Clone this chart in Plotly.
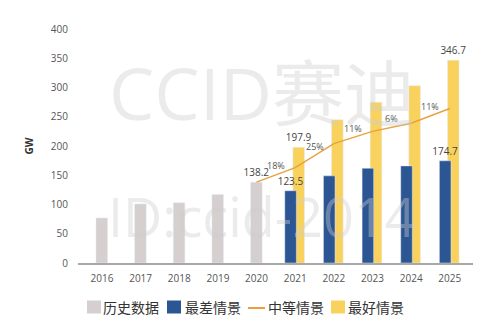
import plotly.graph_objects as go

years = ["2016", "2017", "2018", "2019", "2020", "2021", "2022", "2023", "2024", "2025"]
hist_years = years[:5]
hist_values = [77, 101, 103, 117, 138.2]
fc_years = years[5:]
worst_values = [123.5, 149, 162, 166, 174.7]
best_values = [197.9, 245, 275, 303, 346.7]
mid_years = years[4:]
mid_values = [138.2, 163, 204, 225, 239, 264]
growth_labels = ["18%", "25%", "11%", "6%", "11%"]
series_names = ["历史数据", "最差情景", "中等情景", "最好情景"]

hist_labeled = [4]
worst_labeled = [0, 4]
best_labeled = [0, 4]

GRAY = "#D5CFCF"
BLUE = "#2B5593"
YELLOW = "#F9D25E"
ORANGE = "#E9A140"
FONT = "Open Sans, Noto Sans CJK SC, sans-serif"
CJK = "Noto Sans CJK SC, sans-serif"

W, H = 499, 332
ML, MR, MT, MB = 78, 26, 29, 69
PW, PH = W - ML - MR, H - MT - MB


def px_x(px):
    return (px - ML) / PW


def px_y(py):
    return (H - MB - py) / PH


def labels(vals, idx):
    return [f"{v}" if i in idx else "" for i, v in enumerate(vals)]


fig = go.Figure()
fig.add_trace(go.Bar(
    x=hist_years, y=hist_values, name=series_names[0], marker_color=GRAY,
    width=0.3, offset=-0.155, text=labels(hist_values, hist_labeled),
    textposition="outside", constraintext="none", cliponaxis=False,
    textfont=dict(size=10, color="#444", family=FONT)))
fig.add_trace(go.Bar(
    x=fc_years, y=best_values, name=series_names[3], marker_color=YELLOW,
    width=0.3, offset=-0.06, text=labels(best_values, best_labeled),
    textposition="outside", constraintext="none", cliponaxis=False,
    textfont=dict(size=10, color="#444", family=FONT)))
fig.add_trace(go.Bar(
    x=fc_years, y=worst_values, name=series_names[1], marker_color=BLUE,
    width=0.3, offset=-0.27, text=labels(worst_values, worst_labeled),
    textposition="outside", constraintext="none", cliponaxis=False,
    textfont=dict(size=10, color="#444", family=FONT)))
fig.add_trace(go.Scatter(
    x=mid_years, y=mid_values, name=series_names[2], mode="lines",
    line=dict(color=ORANGE, width=1.5), cliponaxis=False))

# growth-rate labels at segment midpoints
for i, g in enumerate(growth_labels):
    xi = years.index(mid_years[i]) + 0.5
    ym = (mid_values[i] + mid_values[i + 1]) / 2
    fig.add_annotation(x=xi, y=ym, text=g, showarrow=False, yshift=9,
                       font=dict(size=9, color="#555", family=FONT))

# watermarks
fig.add_annotation(xref="paper", yref="paper", x=px_x(262), y=px_y(92), text="CCID赛迪",
                   xanchor="center", yanchor="middle", showarrow=False,
                   font=dict(size=72, color="rgba(205,205,205,0.4)", family=FONT))
fig.add_annotation(xref="paper", yref="paper", x=px_x(262), y=px_y(216), text="ID:ccid-2014",
                   xanchor="center", yanchor="middle", showarrow=False,
                   font=dict(size=54, color="rgba(205,205,205,0.4)", family=FONT))

# custom legend (bottom)
legend_sym_x = [87, 167, 248, 331]
legend_txt_x = [101, 183, 266, 346]
legend_colors = [GRAY, BLUE, ORANGE, YELLOW]
legend_kind = ["box", "box", "line", "box"]
LY = 307
for sx, tx, col, kind, name in zip(legend_sym_x, legend_txt_x, legend_colors, legend_kind, series_names):
    if kind == "box":
        fig.add_shape(type="rect", xref="paper", yref="paper",
                      x0=px_x(sx), x1=px_x(sx + 14), y0=px_y(LY - 6.5), y1=px_y(LY + 6.5),
                      fillcolor=col, line=dict(width=0))
    else:
        fig.add_shape(type="line", xref="paper", yref="paper",
                      x0=px_x(sx), x1=px_x(sx + 17), y0=px_y(LY + 1), y1=px_y(LY + 1),
                      line=dict(color=col, width=2))
    fig.add_annotation(xref="paper", yref="paper", x=px_x(tx), y=px_y(LY), text=name,
                       xanchor="left", yanchor="middle", showarrow=False,
                       font=dict(size=14, color="#333", family=CJK))

fig.update_layout(
    width=W, height=H,
    margin=dict(l=ML, r=MR, t=MT, b=MB, autoexpand=False),
    plot_bgcolor="white", paper_bgcolor="white",
    barmode="overlay",
    showlegend=False,
    font=dict(family=FONT, color="#555"),
)
fig.update_xaxes(type="category", categoryorder="array", categoryarray=years,
                 range=[-0.62, 9.6], showline=True, linecolor="#A8A8A8", linewidth=1.5,
                 showgrid=False, ticks="", ticklabelstandoff=5,
                 tickfont=dict(size=10, color="#555", family=FONT))
fig.update_yaxes(range=[0, 400], tickvals=[0, 50, 100, 150, 200, 250, 300, 350, 400],
                 showgrid=False, zeroline=False, showline=False, ticks="",
                 ticklabelstandoff=9,
                 tickfont=dict(size=10, color="#555", family=FONT),
                 title=dict(text="<b>GW</b>", standoff=15,
                            font=dict(size=10, color="#333", family=FONT)))

fig.write_html("out.html")
